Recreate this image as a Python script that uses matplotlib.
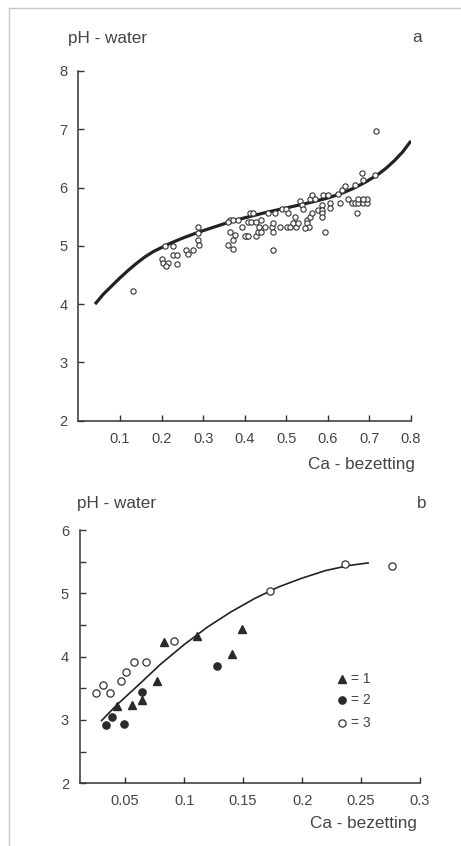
import matplotlib
matplotlib.use('Agg')
import matplotlib.pyplot as plt
from matplotlib.lines import Line2D

plt.rcParams['font.family'] = ['Liberation Sans', 'DejaVu Sans']

# ---------------- data: panel a ----------------
a_curve_x = [0.04, 0.06, 0.08, 0.10, 0.12, 0.14, 0.16, 0.18, 0.20, 0.22, 0.25, 0.28,
             0.30, 0.33, 0.36, 0.40, 0.45, 0.50, 0.55, 0.60, 0.63, 0.66, 0.69, 0.72,
             0.74, 0.76, 0.78, 0.80]
a_curve_y = [4.00, 4.17, 4.31, 4.45, 4.58, 4.70, 4.81, 4.90, 4.97, 5.04, 5.13, 5.21,
             5.26, 5.33, 5.40, 5.48, 5.57, 5.65, 5.73, 5.82, 5.89, 5.98, 6.09, 6.22,
             6.33, 6.46, 6.61, 6.80]

a_pts_x = [0.132,
           0.200, 0.204, 0.216, 0.208, 0.227, 0.228, 0.238, 0.238, 0.210,
           0.260, 0.264, 0.276, 0.288, 0.288, 0.290, 0.287,
           0.360, 0.364, 0.372, 0.372, 0.376, 0.365, 0.372, 0.384, 0.393, 0.405, 0.400, 0.408, 0.360,
           0.412, 0.420, 0.407, 0.416, 0.427, 0.427, 0.432, 0.440, 0.435, 0.449, 0.465, 0.467, 0.468,
           0.456, 0.473, 0.467, 0.440,
           0.489, 0.500, 0.505, 0.485, 0.501, 0.509, 0.523, 0.517, 0.529, 0.533, 0.537, 0.541, 0.549,
           0.549, 0.555, 0.545, 0.557, 0.561, 0.557, 0.561, 0.520,
           0.577, 0.585, 0.585, 0.585, 0.585, 0.589, 0.601, 0.605, 0.605, 0.593, 0.570,
           0.625, 0.629, 0.633, 0.641, 0.649, 0.657, 0.665, 0.673, 0.685, 0.693, 0.673, 0.693,
           0.685, 0.669, 0.665, 0.685, 0.681, 0.713, 0.715]
a_pts_y = [4.23,
           4.77, 4.70, 4.70, 4.99, 4.99, 4.85, 4.84, 4.69, 4.65,
           4.92, 4.86, 4.92, 5.22, 5.10, 5.01, 5.33,
           5.01, 5.24, 5.10, 4.94, 5.19, 5.45, 5.45, 5.45, 5.32, 5.17, 5.17, 5.17, 5.40,
           5.56, 5.56, 5.40, 5.40, 5.41, 5.17, 5.24, 5.24, 5.32, 5.32, 5.32, 5.24, 5.39,
           5.57, 5.57, 4.93, 5.45,
           5.63, 5.63, 5.56, 5.32, 5.32, 5.32, 5.32, 5.39, 5.39, 5.77, 5.70, 5.63, 5.45,
           5.39, 5.33, 5.30, 5.50, 5.56, 5.80, 5.87, 5.50,
           5.61, 5.70, 5.61, 5.56, 5.50, 5.87, 5.87, 5.74, 5.64, 5.24, 5.80,
           5.89, 5.73, 5.96, 6.03, 5.80, 5.73, 5.73, 5.73, 5.73, 5.73, 5.81, 5.81,
           5.81, 5.57, 6.04, 6.13, 6.25, 6.21, 6.97]

a_xticks = [0.1, 0.2, 0.3, 0.4, 0.5, 0.6, 0.7, 0.8]
a_xticklabels = ['0.1', '0.2', '0.3', '0.4', '0.5', '0.6', '0.7', '0.8']
a_yticks = [2, 3, 4, 5, 6, 7, 8]

# ---------------- data: panel b ----------------
b_curve_x = [0.030, 0.043, 0.060, 0.080, 0.100, 0.120, 0.140, 0.160, 0.180, 0.200,
             0.220, 0.240, 0.256]
b_curve_y = [2.99, 3.24, 3.53, 3.88, 4.19, 4.47, 4.71, 4.92, 5.10, 5.24,
             5.36, 5.44, 5.48]

b_tri_x = [0.0429, 0.0557, 0.0642, 0.0770, 0.0832, 0.111, 0.141, 0.1488]
b_tri_y = [3.22, 3.23, 3.31, 3.62, 4.23, 4.33, 4.04, 4.43]

b_dot_x = [0.0335, 0.0386, 0.0491, 0.0642, 0.128]
b_dot_y = [2.92, 3.04, 2.93, 3.44, 3.85]

b_open_x = [0.0253, 0.0315, 0.0372, 0.0466, 0.0506, 0.0571, 0.0679, 0.0917, 0.1727, 0.236, 0.276]
b_open_y = [3.43, 3.55, 3.43, 3.62, 3.75, 3.92, 3.92, 4.24, 5.04, 5.46, 5.43]

b_xticks = [0.05, 0.1, 0.15, 0.2, 0.25, 0.3]
b_xticklabels = ['0.05', '0.1', '0.15', '0.2', '0.25', '0.3']
b_yticks = [2, 3, 4, 5, 6]
b_yminor = [2.5, 3.5, 4.5, 5.5]

legend_labels = ['= 1', '= 2', '= 3']

# ---------------- figure ----------------
W, H = 461, 846
fig = plt.figure(figsize=(W / 100, H / 100), dpi=100)
fig.patch.set_facecolor('white')

AX = '#333333'
TX = '#444444'

ax1 = fig.add_axes([78.4 / W, 1 - 420.7 / H, (411 - 78.4) / W, (420.7 - 70.9) / H])
ax2 = fig.add_axes([80 / W, 1 - 783.3 / H, (420 - 80) / W, (783.3 - 530) / H])

for ax in (ax1, ax2):
    ax.spines['top'].set_visible(False)
    ax.spines['right'].set_visible(False)
    for s in ('left', 'bottom'):
        ax.spines[s].set_color(AX)
        ax.spines[s].set_linewidth(1.1)
    ax.tick_params(which='both', direction='in', length=4, width=1, colors=AX,
                   labelcolor=TX, labelsize=10.5, pad=8)
    ax.set_facecolor('none')

# panel a
ax1.set_xlim(0, 0.8)
ax1.set_ylim(2, 8)
ax1.set_xticks(a_xticks)
ax1.set_xticklabels(a_xticklabels)
ax1.set_yticks(a_yticks)
ax1.plot(a_curve_x, a_curve_y, color='#222222', lw=2.3, solid_capstyle='butt',
         solid_joinstyle='round', zorder=3)
ax1.plot(a_pts_x, a_pts_y, linestyle='none', marker='o', ms=3.8, mfc='white',
         mec='#333333', mew=0.8, zorder=4, clip_on=False)

# panel b
ax2.set_xlim(0.0117, 0.3)
ax2.set_ylim(2, 6)
ax2.set_xticks(b_xticks)
ax2.set_xticklabels(b_xticklabels)
ax2.set_yticks(b_yticks)
ax2.set_yticks(b_yminor, minor=True)
ax2.plot(b_curve_x, b_curve_y, color='#222222', lw=1.2, solid_joinstyle='round', zorder=3)
ax2.plot(b_tri_x, b_tri_y, linestyle='none', marker='^', ms=6, mfc='#2a2a2a',
         mec='#2a2a2a', zorder=4, clip_on=False)
ax2.plot(b_dot_x, b_dot_y, linestyle='none', marker='o', ms=5.2, mfc='#2a2a2a',
         mec='#2a2a2a', zorder=4, clip_on=False)
ax2.plot(b_open_x, b_open_y, linestyle='none', marker='o', ms=5.2, mfc='white',
         mec='#333333', mew=0.9, zorder=4, clip_on=False)

# legend (manual)
leg_y = [679.3, 700.0, 722.7]
leg_styles = [dict(marker='^', ms=6, mfc='#2a2a2a', mec='#2a2a2a'),
              dict(marker='o', ms=5.2, mfc='#2a2a2a', mec='#2a2a2a'),
              dict(marker='o', ms=5.2, mfc='white', mec='#333333', mew=0.9)]
for yy, st, lab in zip(leg_y, leg_styles, legend_labels):
    fig.add_artist(Line2D([341.7 / W], [1 - yy / H], transform=fig.transFigure,
                          linestyle='none', **st))
    fig.text(351 / W, 1 - yy / H, lab, ha='left', va='center', fontsize=10, color=TX)

# texts
fs = 12.3
fig.text(68 / W, 1 - 38 / H, 'pH - water', ha='left', va='center', fontsize=fs, color=TX)
fig.text(417 / W, 1 - 38 / H, 'a', ha='center', va='center', fontsize=fs, color=TX)
fig.text(415 / W, 1 - 464 / H, 'Ca - bezetting', ha='right', va='center', fontsize=fs, color=TX)
fig.text(77 / W, 1 - 503 / H, 'pH - water', ha='left', va='center', fontsize=fs, color=TX)
fig.text(422 / W, 1 - 503 / H, 'b', ha='center', va='center', fontsize=fs, color=TX)
fig.text(417 / W, 1 - 823 / H, 'Ca - bezetting', ha='right', va='center', fontsize=fs, color=TX)

# scan frame
fig.add_artist(Line2D([9 / W, 9 / W], [0, 1 - 8 / H], transform=fig.transFigure,
                      color='#c8c8c8', lw=1))
fig.add_artist(Line2D([9 / W, 1], [1 - 8 / H, 1 - 8 / H], transform=fig.transFigure,
                      color='#c8c8c8', lw=1))

fig.savefig('out.png', dpi=100)
